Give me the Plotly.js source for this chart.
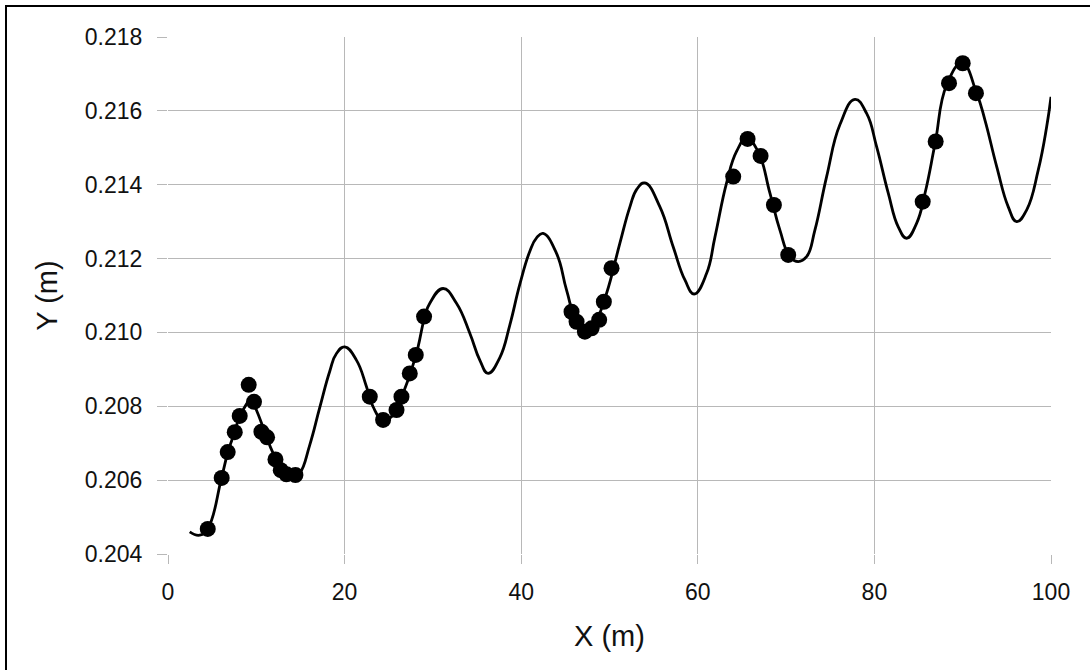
<!DOCTYPE html>
<html>
<head>
<meta charset="utf-8">
<script src="https://cdn.plot.ly/plotly-3.0.1.min.js"></script>
<style>
  html, body { margin: 0; padding: 0; background: #fff; }
  #chart { position: absolute; left: 0; top: 0; width: 1090px; height: 670px; }
  #frame { position: absolute; left: 5px; top: 5px; width: 1100px; height: 700px;
           border-top: 2px solid #000; border-left: 2px solid #000; pointer-events: none; }
</style>
</head>
<body>
<div id="chart"></div>
<div id="frame"></div>
<script>
// Smooth model curve
const curveX = [2.46, 3.59, 4.53, 6.05, 6.80, 7.56, 8.12, 9.45, 10.01, 10.95, 11.90, 13.03, 14.16, 14.92,
  16.05, 17.19, 18.32, 19.08, 20.02, 21.34, 22.48, 23.22, 24.36, 25.68, 26.62, 27.57, 28.32, 29.08, 29.65,
  31.15, 32.67, 34.18, 35.31, 36.25, 37.58, 38.71, 39.84, 40.98, 41.74, 42.48, 44.00, 45.13, 46.27, 47.40,
  48.53, 49.67, 51.17, 52.31, 53.10, 54.00, 55.71, 57.21, 58.54, 59.59, 61.00, 61.94, 63.26, 64.39, 65.53,
  66.84, 68.17, 69.30, 70.43, 71.37, 72.32, 73.26, 74.59, 76.10, 77.80, 79.12, 80.25, 81.57, 82.70,
  83.65, 84.79, 85.73, 86.86, 88.18, 89.95, 91.58, 92.52, 93.85, 95.16, 96.11, 97.25, 98.56, 99.51, 100.0];
const curveY = [0.20460, 0.20451, 0.20470, 0.20605, 0.20677, 0.20731, 0.20772, 0.20817, 0.20790, 0.20731,
  0.20673, 0.20627, 0.20609, 0.20619, 0.20695, 0.20797, 0.20895, 0.20943, 0.20961, 0.20925, 0.20853, 0.20799,
  0.20763, 0.20781, 0.20835, 0.20898, 0.20961, 0.21043, 0.21079, 0.21119, 0.21079, 0.20998, 0.20925,
  0.20889, 0.20932, 0.21020, 0.21130, 0.21220, 0.21256, 0.21268, 0.21214, 0.21115, 0.21029, 0.20998, 0.21034,
  0.21106, 0.21241, 0.21340, 0.21388, 0.21405, 0.21340, 0.21232, 0.21142, 0.21104, 0.21160, 0.21258, 0.21405,
  0.21490, 0.21526, 0.21489, 0.21377, 0.21277, 0.21205, 0.21192, 0.21205, 0.21277, 0.21422, 0.21563,
  0.21631, 0.21593, 0.21503, 0.21377, 0.21286, 0.21255, 0.21296, 0.21377, 0.21510, 0.21670, 0.21729,
  0.21648, 0.21575, 0.21449, 0.21340, 0.21300, 0.21332, 0.21440, 0.21557, 0.21638];

// Measured points
const pointX = [4.50, 6.08, 6.76, 7.56, 8.12, 9.14, 9.74, 10.58, 11.22, 12.17, 12.77, 13.41, 14.43,
  22.85, 24.36, 25.88, 26.44, 27.38, 28.06, 29.00,
  45.70, 46.27, 47.21, 47.97, 48.83, 49.36, 50.23,
  64.01, 65.64, 67.11, 68.62, 70.24,
  85.47, 86.94, 88.45, 90.00, 91.50];
const pointY = [0.20468, 0.20606, 0.20676, 0.20730, 0.20774, 0.20858, 0.20812, 0.20731, 0.20716, 0.20656,
  0.20627, 0.20616, 0.20614,
  0.20826, 0.20763, 0.20790, 0.20826, 0.20889, 0.20939, 0.21043,
  0.21056, 0.21029, 0.21002, 0.21011, 0.21034, 0.21083, 0.21174,
  0.21422, 0.21524, 0.21478, 0.21345, 0.21210,
  0.21354, 0.21517, 0.21675, 0.21729, 0.21648];

const xTitle = 'X (m)';
const yTitle = 'Y (m)';

const font = 'Arial, "Liberation Sans", sans-serif';

const traces = [
  { x: curveX, y: curveY, type: 'scatter', mode: 'lines',
    line: { color: '#000', width: 2.8, shape: 'spline', smoothing: 1.3 }, hoverinfo: 'skip' },
  { x: pointX, y: pointY, type: 'scatter', mode: 'markers',
    marker: { color: '#000', size: 16, line: { width: 0 } } }
];

const layout = {
  width: 1090, height: 670,
  margin: { l: 168, r: 39, t: 37, b: 116 },
  paper_bgcolor: '#fff', plot_bgcolor: '#fff',
  showlegend: false,
  font: { family: font, color: '#111', size: 24 },
  xaxis: {
    range: [0, 100], dtick: 20, tick0: 0,
    showgrid: true, gridcolor: '#b8b8b8', gridwidth: 1,
    zeroline: false, showline: false,
    ticks: 'outside', ticklen: 9, tickcolor: '#b8b8b8', tickwidth: 1,
    ticklabelstandoff: 8,
    tickfont: { family: font, size: 23, color: '#111' },
    title: { text: xTitle, font: { family: font, size: 29, color: '#111' }, standoff: 22 }
  },
  yaxis: {
    range: [0.204, 0.218], dtick: 0.002, tick0: 0.204, tickformat: '.3f',
    showgrid: true, gridcolor: '#b8b8b8', gridwidth: 1,
    zeroline: false, showline: false,
    ticks: 'outside', ticklen: 10, tickcolor: '#b8b8b8', tickwidth: 1,
    ticklabelstandoff: 10,
    tickfont: { family: font, size: 23, color: '#111' },
    title: { text: yTitle, font: { family: font, size: 29, color: '#111' }, standoff: 18 }
  }
};

Plotly.newPlot('chart', traces, layout, { displayModeBar: false, staticPlot: true });
</script>
</body>
</html>
